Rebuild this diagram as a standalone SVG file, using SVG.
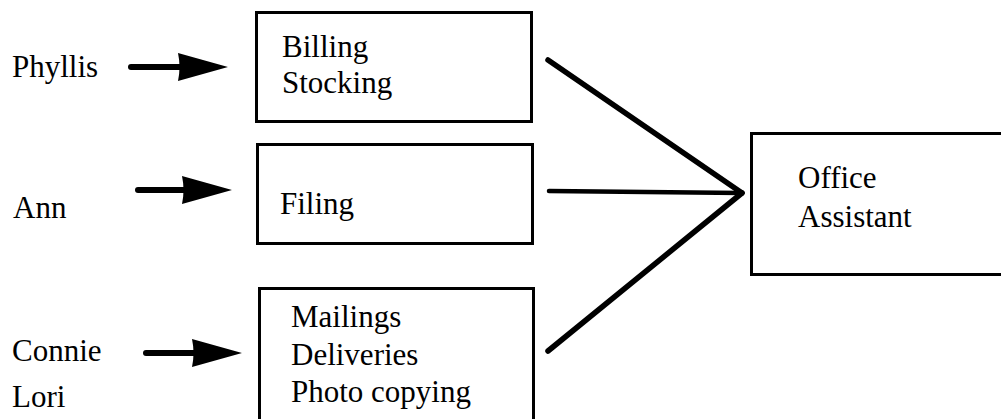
<svg xmlns="http://www.w3.org/2000/svg" width="1001" height="419" viewBox="0 0 1001 419">
  <style>
    .box { fill: #ffffff; stroke: #000000; stroke-width: 3; }
    .lbl { font-family: "Liberation Serif", "Times New Roman", serif; font-size: 31px; fill: #000000; }
    .shaft { stroke: #000000; stroke-width: 6; stroke-linecap: round; fill: none; }
    .link { stroke: #000000; stroke-width: 5.5; stroke-linecap: round; fill: none; }
  </style>
  <defs>
    <!-- arrowhead, tip at the origin, pointing right -->
    <path id="head" d="M-50,-14 L0,0 L-50,14 Q-47,0 -50,-14 Z" fill="#000000"/>
  </defs>
  <rect width="1001" height="419" fill="#ffffff"/>

  <!-- people -->
  <g id="person-phyllis"><text class="lbl" x="12" y="77">Phyllis</text></g>
  <g id="person-ann"><text class="lbl" x="13" y="218">Ann</text></g>
  <g id="person-connie-lori">
    <text class="lbl" x="12" y="361">Connie</text>
    <text class="lbl" x="12" y="407">Lori</text>
  </g>

  <!-- task boxes -->
  <g id="task-billing">
    <rect class="box" x="256.5" y="12.5" width="275" height="109"/>
    <text class="lbl" x="282" y="57">Billing</text>
    <text class="lbl" x="282" y="93">Stocking</text>
  </g>
  <g id="task-filing">
    <rect class="box" x="257.5" y="144.5" width="275" height="99"/>
    <text class="lbl" x="280" y="214">Filing</text>
  </g>
  <g id="task-mailings">
    <rect class="box" x="259.5" y="288.5" width="274" height="140"/>
    <text class="lbl" x="291" y="327">Mailings</text>
    <text class="lbl" x="291" y="365">Deliveries</text>
    <text class="lbl" x="291" y="402">Photo copying</text>
  </g>

  <!-- role box -->
  <g id="role-office-assistant">
    <rect class="box" x="751.5" y="133.5" width="252" height="141"/>
    <text class="lbl" x="798" y="188">Office</text>
    <text class="lbl" x="798" y="227">Assistant</text>
  </g>

  <!-- connectors -->
  <g id="connectors">
    <line class="shaft" x1="131" y1="67" x2="182" y2="67"/>
    <use href="#head" x="228" y="67"/>
    <line class="shaft" x1="138" y1="190" x2="186" y2="190"/>
    <use href="#head" x="232" y="190"/>
    <line class="shaft" x1="146" y1="353" x2="196" y2="353"/>
    <use href="#head" x="242" y="353"/>
    <line class="link" x1="548" y1="60" x2="742" y2="193"/>
    <line class="link" x1="549" y1="191" x2="742" y2="193" style="stroke-width:4.5"/>
    <line class="link" x1="548" y1="351" x2="742" y2="193"/>
  </g>
</svg>
